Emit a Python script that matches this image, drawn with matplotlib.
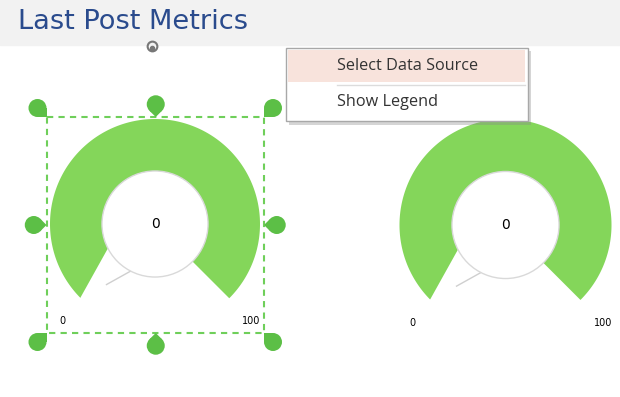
import numpy as np
import matplotlib.pyplot as plt
from matplotlib.patches import Polygon, Rectangle, Circle

title = "Last Post Metrics"
gauge_values = [0, 0]
gauge_min = [0, 0]
gauge_max = [100, 100]
menu_items = ["Select Data Source", "Show Legend"]

green = '#84d65a'
handle_green = '#5cbf46'

fig = plt.figure(figsize=(6.2, 3.97), dpi=100)
ax = fig.add_axes([0, 0, 1, 1])
ax.set_xlim(0, 620)
ax.set_ylim(397, 0)
ax.axis('off')

# header band + title
ax.add_patch(Rectangle((0, 0), 620, 45, color='#f2f2f2', zorder=0))
ax.text(18, 22, title, fontsize=19.6, color='#2a4b8d', va='center', ha='left')
ax.plot(152, 46, 'o', ms=7, mfc='none', mec='#777777', mew=1.5)
ax.plot(152, 47.5, 'o', ms=3, color='#777777')


def to_angle(v, vmin, vmax):
    return np.radians(225 - 270 * (v - vmin) / (vmax - vmin))


def pt(cx, cy, r, a):
    return np.column_stack([cx + r * np.cos(a), cy - r * np.sin(a)])


def gauge(cx, cy, R, value, vmin, vmax):
    t = np.linspace(to_angle(vmin, vmin, vmax), to_angle(vmax, vmin, vmax), 300)
    band = np.vstack([pt(cx, cy, R, t), pt(cx, cy, 0.3 * R, t[::-1])])
    ax.add_patch(Polygon(band, closed=True, fc=green, ec='none', zorder=2))

    # needle
    an = to_angle(value, vmin, vmax)
    c = np.array([cx, cy])
    u = np.array([np.cos(an), -np.sin(an)])
    p = np.array([np.sin(an), np.cos(an)])
    tip = c + 1.02 * R * u
    b1 = c + 0.29 * R * p
    b2 = c - 0.29 * R * p
    ax.add_patch(Polygon([tip, b1, b2], closed=True, fc='white', ec='none', zorder=3))
    e = b2 + (tip - b2) * 0.72
    ax.plot([b2[0], e[0]], [b2[1], e[1]], color='#cfcfcf', lw=1, zorder=3)

    ax.add_patch(Circle((cx, cy), 0.505 * R, fc='white', ec='#d9d9d9', lw=1, zorder=4))
    ax.text(cx, cy, str(value), fontsize=10, ha='center', va='center', zorder=5)
    ax.text(cx - 0.88 * R, cy + 0.92 * R, str(vmin), fontsize=7, ha='center', va='center')
    ax.text(cx + 0.92 * R, cy + 0.92 * R, str(vmax), fontsize=7, ha='center', va='center')


gauge(155, 224, 105, gauge_values[0], gauge_min[0], gauge_max[0])
gauge(505.5, 225, 106, gauge_values[1], gauge_min[1], gauge_max[1])

# selection box with handles
x0, y0, x1, y1 = 46.5, 117, 264, 333
ax.add_patch(Rectangle((x0, y0), x1 - x0, y1 - y0, fill=False, ec='#6fcf5a',
                       lw=1.5, ls=(0, (3, 2.5)), zorder=6))


def handle(anchor, d, r=9):
    d = np.array(d, dtype=float)
    d = d / np.hypot(*d)
    a = np.array(anchor)
    cen = a + d * r * np.sqrt(2)
    rot = lambda v, g: np.array([v[0] * np.cos(g) - v[1] * np.sin(g),
                                 v[0] * np.sin(g) + v[1] * np.cos(g)])
    sq = [cen, cen + r * rot(-d, np.pi / 4), a, cen + r * rot(-d, -np.pi / 4)]
    ax.add_patch(Polygon(sq, closed=True, fc=handle_green, ec='none', zorder=7))
    ax.add_patch(Circle(cen, r, fc=handle_green, ec='none', zorder=7))


xm, ym = (x0 + x1) / 2 + 0.5, (y0 + y1) / 2
for anc, d in [((x0, y0), (-1, -1)), ((xm, y0), (0, -1)), ((x1, y0), (1, -1)),
               ((x0, ym), (-1, 0)), ((x1, ym), (1, 0)),
               ((x0, y1), (-1, 1)), ((xm, y1), (0, 1)), ((x1, y1), (1, 1))]:
    handle(anc, d)

# context menu
ax.add_patch(Rectangle((289, 51), 242, 74, fc='#888888', alpha=0.35, ec='none', zorder=8))
ax.add_patch(Rectangle((285.5, 47.5), 242, 73.5, fc='white', ec='#a8a8a8', lw=1, zorder=9))
ax.add_patch(Rectangle((288, 50), 237, 32, fc='#f8e3dc', ec='none', zorder=10))
ax.plot([337, 525], [84.5, 84.5], color='#dcdcdc', lw=1, zorder=10)
for i, item in enumerate(menu_items):
    ax.text(337, 66 + 36 * i, item, fontsize=11.7, family=['Open Sans', 'DejaVu Sans'],
            color='#333333', ha='left', va='center', zorder=11)

fig.savefig('out.png', dpi=100)
